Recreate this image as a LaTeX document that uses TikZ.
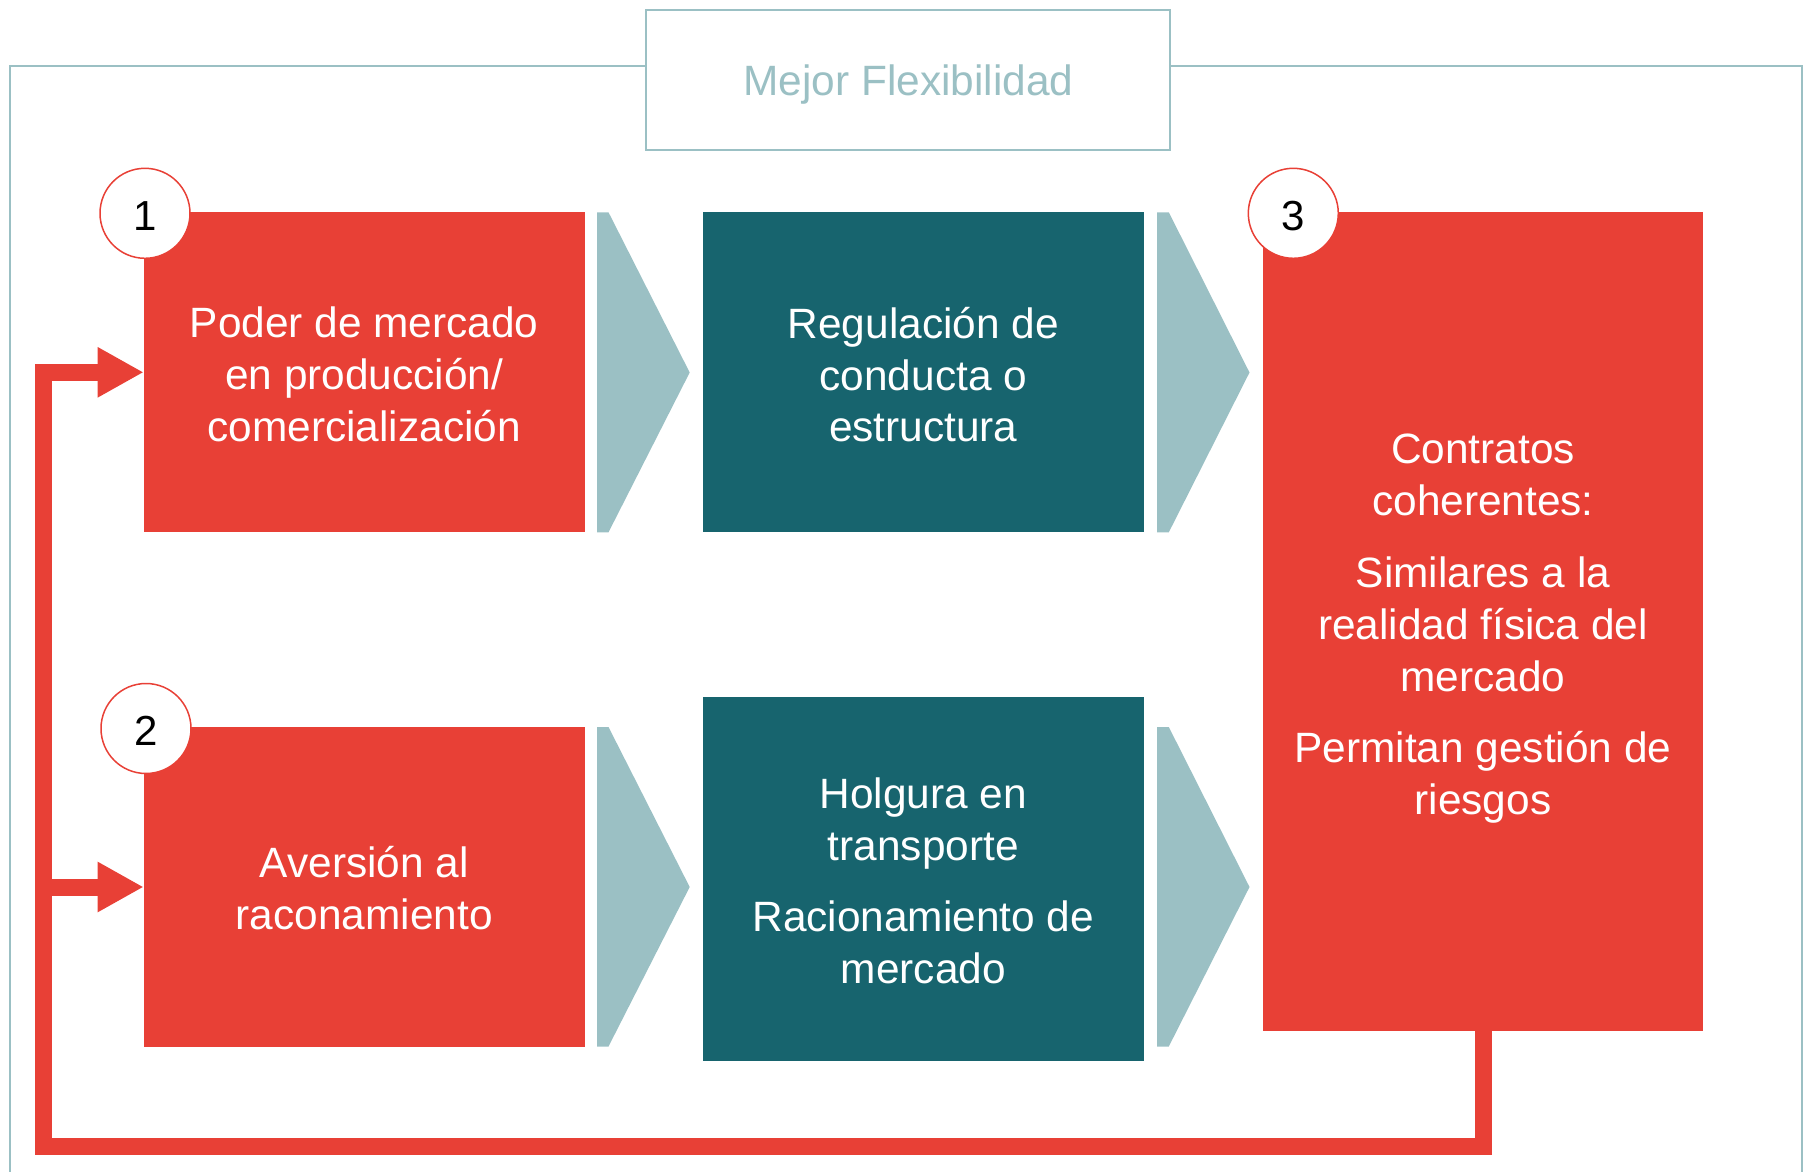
\documentclass[tikz,border=0pt]{standalone}
\usepackage{fontspec}
\setmainfont{Liberation Sans}
\usetikzlibrary{arrows.meta}
\definecolor{myred}{HTML}{E84036}
\definecolor{myteal}{HTML}{17646E}
\definecolor{mylight}{HTML}{9BC0C4}
\begin{document}
\begin{tikzpicture}[x=1pt,y=-1pt,
  txt/.style={font=\fontsize{42.4pt}{51.8pt}\selectfont, align=center, text=white, inner sep=0pt},
  redbox/.style={fill=myred, draw=none, inner sep=0pt, outer sep=0pt, anchor=north west},
  tealbox/.style={fill=myteal, draw=none, inner sep=0pt, outer sep=0pt, anchor=north west},
  numcirc/.style={circle, fill=white, draw=myred, line width=1.5pt, minimum size=90pt, inner sep=0pt},
  numtxt/.style={font=\fontsize{42pt}{50pt}\selectfont, text=black, inner sep=0pt},
  chev/.style={fill=mylight, draw=none},
  fb/.style={draw=myred, line width=17pt, -{Triangle[length=46pt,width=47pt]}}
]
\useasboundingbox (0,0) rectangle (1804,1172);
% frame
\draw[mylight, line width=2pt] (10.4,1190) -- (10.4,65.6) -- (1802,65.6) -- (1802,1190);
\node[draw=mylight, line width=2pt, fill=white, minimum width=524pt, minimum height=140pt, inner sep=0pt, anchor=north west] (title) at (645.4,9.4) {};
\node[txt, text=mylight] (tt) at ([yshift=-4.6pt]title.center) {Mejor Flexibilidad};
% boxes
\node[redbox, minimum width=441pt, minimum height=320pt] (b1) at (143.7,212.3) {};
\node[tealbox, minimum width=440.6pt, minimum height=320pt] (b2) at (703,212.3) {};
\node[redbox, minimum width=440pt, minimum height=819pt] (b3) at (1263,212.3) {};
\node[redbox, minimum width=441pt, minimum height=320pt] (b4) at (143.7,727) {};
\node[tealbox, minimum width=440.6pt, minimum height=363.5pt] (b5) at (703,697.2) {};
\node[txt] (t1) at ([yshift=-2.3pt]b1.center) {Poder de mercado\\en producción/\\comercialización};
\node[txt] (t2) at ([yshift=-2.3pt]b2.center) {Regulación de\\conducta o\\estructura};
\node[txt] (t3) at ([yshift=-7pt]b3.center) {Contratos\\coherentes:\\[20pt]Similares a la\\realidad física del\\mercado\\[20pt]Permitan gestión de\\riesgos};
\node[txt] (t4) at ([yshift=-1.3pt]b4.center) {Aversión al\\raconamiento};
\node[txt] (t5) at ([yshift=-1.8pt]b5.center) {Holgura en\\transporte\\[20pt]Racionamiento de\\mercado};
% chevrons
\fill[chev] (597,212.3) -- (608.5,212.3) -- (689.7,372.5) -- (608.5,532.3) -- (597,532.3) -- cycle;
\fill[chev] (1157,212.3) -- (1168.8,212.3) -- (1249.5,372.5) -- (1168.8,532.3) -- (1157,532.3) -- cycle;
\fill[chev] (597,727) -- (608.5,727) -- (689.7,887) -- (608.5,1046.5) -- (597,1046.5) -- cycle;
\fill[chev] (1157,727) -- (1168.8,727) -- (1249.5,887) -- (1168.8,1046.5) -- (1157,1046.5) -- cycle;
% feedback
\coordinate (c1) at (1483,1146.3);
\coordinate (c2) at (43,1146.3);
\coordinate (c3) at (43,372.3);
\coordinate (c4) at (43,887);
\draw[fb] (b3.south) -- (c1) -- (c2) -- (c3) -- (b1.west);
\draw[fb] (c4) -- (b4.west);
% numbers
\node[numcirc] (n1) at (145,213.3) {};
\node[numcirc] (n2) at (146,728.5) {};
\node[numcirc] (n3) at (1293.3,213.3) {};
\node[numtxt] at ([yshift=-2.3pt]n1.center) {1};
\node[numtxt] at ([yshift=-2.3pt]n2.center) {2};
\node[numtxt] at ([yshift=-2.3pt]n3.center) {3};
\end{tikzpicture}
\end{document}
